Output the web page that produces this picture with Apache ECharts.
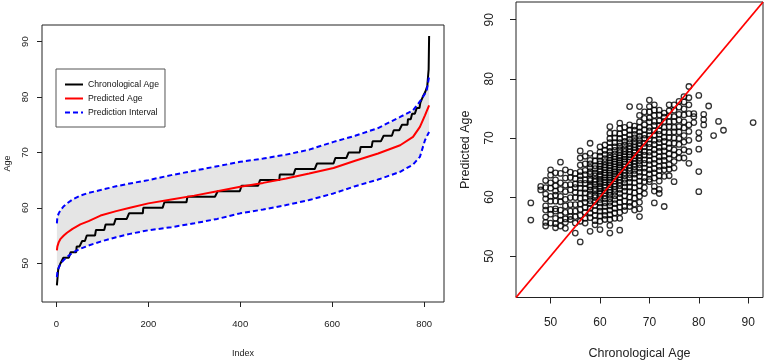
<!DOCTYPE html>
<html>
<head>
<meta charset="utf-8">
<script src="https://cdn.jsdelivr.net/npm/echarts@6/dist/echarts.min.js"></script>
<style>
  html, body { margin: 0; padding: 0; background: #fff; }
  #chart { width: 765px; height: 360px; }
</style>
</head>
<body>
<div id="chart"></div>
<script>
// left panel: sorted chronological ages (value + how many subjects)
const ageValues = [46, 48, 49, 50, 51, 52, 53, 54, 55, 56, 57, 58, 59, 60, 61, 62, 63, 64, 65, 66, 67, 68,
  69, 70, 71, 72, 73, 74, 75, 76, 77, 78, 79, 80, 81, 82, 83, 84, 85, 91];
const ageCounts = [2, 1, 5, 6, 16, 13, 12, 10, 20, 21, 22, 29, 31, 46, 50, 66, 52, 40, 43, 34, 47, 40,
  29, 26, 26, 24, 22, 18, 13, 9, 10, 8, 5, 6, 4, 1, 1, 1, 1, 1];

// left panel: sorted predicted age and prediction interval, read at these indices
const curveIndex = [1, 2, 5, 9, 16, 23, 35, 52, 70, 96, 130, 160, 200, 250, 300, 350, 400, 450, 500,
  550, 603, 650, 700, 748, 776, 791, 802, 806, 811];
const predCurve = [52.3, 53.0, 53.8, 54.4, 55.0, 55.5, 56.2, 57.0, 57.6, 58.6, 59.4, 60.0, 60.8, 61.5,
  62.2, 63.0, 63.8, 64.5, 65.3, 66.2, 67.2, 68.5, 69.8, 71.3, 72.8, 74.6, 76.7, 77.5, 78.5];
const upperCurve = [57.2, 58.3, 59.0, 59.6, 60.3, 60.8, 61.5, 62.2, 62.7, 63.2, 63.9, 64.4, 65.0, 65.9,
  66.7, 67.5, 68.3, 68.9, 69.6, 70.5, 71.9, 73.0, 74.4, 76.4, 77.6, 79.2, 80.6, 81.3, 83.7];
const lowerCurve = [47.5, 48.3, 49.2, 49.9, 50.6, 51.1, 51.9, 52.6, 53.2, 53.9, 54.7, 55.3, 55.95, 56.5,
  57.2, 58.0, 59.0, 59.7, 60.5, 61.4, 62.6, 63.9, 65.1, 66.5, 67.8, 69.2, 72.2, 72.9, 73.7];

const indexTicks = [0, 200, 400, 600, 800];
const ageTicks = [50, 60, 70, 80, 90];

// right panel: predicted age for each chronological age column
const scatterAges = [46, 48, 49, 50, 51, 52, 53, 54, 55, 56, 57, 58, 59, 60, 61, 62, 63, 64, 65, 66, 67,
  68, 69, 70, 71, 72, 73, 74, 75, 76, 77, 78, 79, 80, 81, 82, 83, 84, 85, 91];
const scatterPreds = [
  [59.0, 56.1],
  [61.8, 61.2],
  [62.8, 61.6, 60.5, 59.7, 58.5, 57.8, 56.6, 55.7, 55.1],
  [64.6, 63.7, 62.4, 61.5, 60.1, 59.3, 57.9, 57.1, 55.6],
  [64.1, 62.9, 61.9, 61.0, 60.3, 59.3, 58.0, 57.6, 56.4, 55.5, 54.8],
  [65.9, 64.0, 62.4, 61.3, 60.1, 59.2, 57.8, 56.9, 56.1, 55.1],
  [64.6, 63.2, 62.0, 60.9, 59.6, 58.5, 57.4, 56.3, 55.7, 54.7],
  [64.2, 63.3, 62.1, 61.2, 59.9, 58.7, 57.6, 56.7, 56.2],
  [64.0, 63.1, 62.2, 61.6, 60.8, 59.9, 58.7, 57.6, 56.7, 55.6, 53.9],
  [67.8, 66.6, 65.4, 64.3, 63.6, 62.9, 62.3, 61.5, 60.7, 59.8, 58.8, 57.9, 56.9, 55.9, 52.4],
  [66.9, 65.6, 64.5, 63.8, 62.9, 62.3, 61.4, 60.7, 59.8, 59.1, 58.2, 57.4, 56.4, 55.6],
  [69.1, 67.4, 66.2, 65.6, 65.0, 64.3, 63.9, 63.1, 62.8, 62.0, 61.7, 61.2, 60.5, 60.1, 59.4, 58.9, 58.1, 57.3, 56.5, 54.2],
  [67.0, 66.1, 65.3, 64.8, 64.1, 63.6, 63.0, 62.6, 62.1, 61.4, 61.0, 60.3, 59.9, 59.2, 58.6, 57.7, 56.9, 56.0, 55.3],
  [68.5, 67.6, 66.9, 66.1, 65.6, 65.2, 64.7, 64.3, 63.8, 63.5, 63.0, 62.6, 62.3, 61.8, 61.4, 61.0, 60.6, 60.1, 59.6, 59.0, 58.3, 57.6, 56.8, 55.9, 54.5],
  [68.8, 67.9, 67.2, 66.5, 66.0, 65.4, 65.0, 64.6, 64.1, 63.7, 63.3, 62.9, 62.5, 62.0, 61.6, 61.1, 60.7, 60.2, 59.7, 59.0, 58.4, 57.6, 56.9, 56.2],
  [71.9, 70.8, 69.9, 69.2, 68.4, 67.7, 67.1, 66.6, 66.2, 65.8, 65.3, 64.9, 64.5, 64.1, 63.7, 63.3, 62.9, 62.5, 62.1, 61.7, 61.2, 60.8, 60.3, 59.7, 59.1, 58.5, 57.8, 57.0, 56.2, 55.2, 53.9],
  [70.8, 70.0, 69.2, 68.5, 67.9, 67.3, 66.8, 66.4, 66.0, 65.6, 65.1, 64.7, 64.3, 63.9, 63.5, 63.1, 62.7, 62.2, 61.8, 61.3, 60.8, 60.2, 59.6, 58.9, 58.1, 57.3, 56.4],
  [72.5, 71.6, 70.7, 69.9, 69.2, 68.6, 68.0, 67.5, 67.0, 66.6, 66.2, 65.8, 65.4, 65.0, 64.6, 64.2, 63.8, 63.4, 62.9, 62.4, 61.9, 61.3, 60.6, 59.9, 59.1, 58.3, 57.4, 56.4, 54.4],
  [71.8, 70.9, 70.1, 69.4, 68.8, 68.2, 67.7, 67.2, 66.8, 66.4, 66.0, 65.6, 65.1, 64.6, 64.1, 63.6, 63.0, 62.4, 61.7, 61.0, 60.2, 59.3, 58.4, 57.7],
  [75.3, 72.2, 71.3, 70.5, 69.8, 69.2, 68.6, 68.1, 67.6, 67.2, 66.8, 66.3, 65.9, 65.4, 64.9, 64.4, 63.8, 63.2, 62.5, 61.7, 60.9, 60.0, 59.1, 58.4],
  [72.0, 71.3, 70.6, 70.0, 69.4, 68.9, 68.4, 67.9, 67.5, 67.0, 66.6, 66.1, 65.6, 65.1, 64.5, 63.9, 63.2, 62.4, 61.6, 60.7, 59.8, 58.8, 57.8],
  [75.3, 73.8, 72.7, 71.8, 71.0, 70.3, 69.7, 69.1, 68.6, 68.1, 67.6, 67.1, 66.6, 66.1, 65.5, 64.9, 64.2, 63.5, 62.7, 61.9, 61.0, 60.1, 59.1, 58.0, 56.7],
  [74.4, 73.3, 72.2, 71.4, 70.5, 69.9, 69.1, 68.5, 67.7, 67.1, 66.3, 65.7, 64.9, 64.2, 63.3, 62.6, 61.6, 60.6],
  [76.4, 75.3, 74.4, 73.4, 72.7, 71.8, 71.2, 70.4, 69.8, 69.0, 68.4, 67.6, 67.0, 66.2, 65.5, 64.6, 63.9, 63.0, 62.6],
  [75.6, 74.7, 73.8, 72.8, 72.1, 71.2, 70.5, 69.6, 68.9, 68.0, 67.3, 66.4, 65.7, 64.8, 64.1, 63.2, 61.8, 61.0, 59.0],
  [74.7, 73.9, 72.9, 72.1, 71.2, 70.6, 69.8, 69.2, 68.4, 67.7, 66.8, 66.1, 65.2, 64.5, 63.6, 62.7, 61.3, 60.6],
  [74.2, 73.5, 72.8, 71.8, 71.0, 70.1, 69.4, 68.5, 67.8, 66.9, 66.2, 65.3, 64.6, 63.5, 58.4],
  [75.6, 74.6, 73.7, 72.7, 71.9, 70.9, 70.1, 69.1, 68.3, 67.3, 66.5, 65.5, 64.7, 63.6],
  [75.6, 74.7, 73.6, 72.8, 71.8, 71.0, 70.0, 69.1, 68.0, 67.1, 66.0, 64.9, 62.6],
  [76.2, 75.2, 74.0, 73.0, 71.9, 71.0, 69.9, 68.9, 67.6, 66.6],
  [77.0, 76.1, 74.9, 73.9, 72.7, 71.7, 70.4, 69.3, 68.0, 66.6],
  [78.7, 76.8, 75.6, 74.1, 72.2, 71.1, 69.6, 67.7, 65.7],
  [74.1, 73.6, 72.6],
  [77.2, 70.9, 69.9, 68.1, 64.3, 60.9],
  [74.0, 73.1, 72.2],
  [75.4],
  [70.4],
  [72.8],
  [71.3],
  [72.6]
];
const identityRange = [43, 93];

const baseFont = '"Liberation Sans", Arial, sans-serif';
const axisColor = "#222";

function chronSeries(){
  const pts = [];
  let idx = 1;
  ageValues.forEach((age, i) => {
    for(let k = 0; k < ageCounts[i]; k++){
      pts.push([idx, age]);
      idx++;
    }
  });
  return pts;
}

function pairs(values){
  return curveIndex.map((x, i) => [x, values[i]]);
}

function scatterPoints(){
  const pts = [];
  scatterAges.forEach((age, i) => {
    scatterPreds[i].forEach((p) => pts.push([age, p]));
  });
  return pts;
}

function valueAxis(opts){
  return Object.assign({
    type: "value",
    scale: true,
    splitLine: { show: false },
    axisLine: { show: false, onZero: false },
    nameLocation: "middle"
  }, opts);
}

const chart = echarts.init(document.getElementById("chart"), null, { renderer: "canvas" });

chart.setOption({
  animation: false,
  backgroundColor: "#fff",
  grid: [
    { left: 42, top: 25, width: 402, height: 277, outerBoundsMode: "none", containLabel: false,
      show: true, borderColor: axisColor, borderWidth: 1, backgroundColor: "transparent" },
    { left: 516, top: 2, width: 247, height: 295.5, outerBoundsMode: "none", containLabel: false,
      show: true, borderColor: axisColor, borderWidth: 1, backgroundColor: "transparent" }
  ],
  legend: {
    left: 56,
    top: 69,
    orient: "vertical",
    padding: [11, 6, 10, 8],
    itemWidth: 18,
    itemHeight: 10,
    itemGap: 5,
    borderColor: "#555",
    borderWidth: 1,
    itemStyle: { opacity: 0 },
    data: ["Chronological Age", "Predicted Age", "Prediction Interval"],
    textStyle: { fontFamily: baseFont, fontSize: 8.7, color: "#111" }
  },
  xAxis: [
    valueAxis({
      gridIndex: 0, min: -31.4, max: 843.4,
      name: "Index", nameGap: 47,
      nameTextStyle: { fontFamily: baseFont, fontSize: 9, color: "#222" },
      axisTick: { show: true, length: 5, customValues: indexTicks, lineStyle: { color: axisColor } },
      axisLabel: { customValues: indexTicks, margin: 17, fontFamily: baseFont, fontSize: 9.5, color: "#222" }
    }),
    valueAxis({
      gridIndex: 1, min: identityRange[0], max: identityRange[1],
      name: "Chronological Age", nameGap: 50,
      nameTextStyle: { fontFamily: baseFont, fontSize: 12.5, color: "#222" },
      axisTick: { show: true, length: 6, customValues: ageTicks, lineStyle: { color: axisColor } },
      axisLabel: { customValues: ageTicks, margin: 19, fontFamily: baseFont, fontSize: 12, color: "#222" }
    })
  ],
  yAxis: [
    valueAxis({
      gridIndex: 0, min: 43, max: 93,
      name: "Age", nameGap: 30,
      nameTextStyle: { fontFamily: baseFont, fontSize: 9, color: "#222" },
      axisTick: { show: true, length: 5, customValues: ageTicks, lineStyle: { color: axisColor } },
      axisLabel: { customValues: ageTicks, rotate: 90, margin: 12, fontFamily: baseFont, fontSize: 9.5, color: "#222" }
    }),
    valueAxis({
      gridIndex: 1, min: identityRange[0], max: identityRange[1],
      name: "Predicted Age", nameGap: 44,
      nameTextStyle: { fontFamily: baseFont, fontSize: 12.5, color: "#222" },
      axisTick: { show: true, length: 6, customValues: ageTicks, lineStyle: { color: axisColor } },
      axisLabel: { customValues: ageTicks, rotate: 90, margin: 20, fontFamily: baseFont, fontSize: 12, color: "#222" }
    })
  ],
  series: [
    {
      type: "custom",
      xAxisIndex: 0,
      yAxisIndex: 0,
      z: 1,
      silent: true,
      data: [[curveIndex[0], lowerCurve[0]]],
      renderItem: (params, api) => {
        const points = [];
        for(let i = 0; i < curveIndex.length; i++){
          points.push(api.coord([curveIndex[i], upperCurve[i]]));
        }
        for(let i = curveIndex.length - 1; i >= 0; i--){
          points.push(api.coord([curveIndex[i], lowerCurve[i]]));
        }
        return { type: "polygon", shape: { points }, style: { fill: "#e5e5e5" } };
      }
    },
    {
      name: "Chronological Age",
      type: "line",
      xAxisIndex: 0, yAxisIndex: 0, z: 3,
      symbol: "none",
      data: chronSeries(),
      lineStyle: { color: "#000", width: 2 },
      itemStyle: { color: "#000" }
    },
    {
      name: "Predicted Age",
      type: "line",
      xAxisIndex: 0, yAxisIndex: 0, z: 4,
      symbol: "none",
      data: pairs(predCurve),
      lineStyle: { color: "#ff0000", width: 2 },
      itemStyle: { color: "#ff0000" }
    },
    {
      name: "Prediction Interval",
      type: "line",
      xAxisIndex: 0, yAxisIndex: 0, z: 4,
      symbol: "none",
      data: pairs(upperCurve),
      lineStyle: { color: "#0000ff", width: 2, type: [5, 3] },
      itemStyle: { color: "#0000ff" }
    },
    {
      name: "Prediction Interval",
      type: "line",
      xAxisIndex: 0, yAxisIndex: 0, z: 4,
      symbol: "none",
      data: pairs(lowerCurve),
      lineStyle: { color: "#0000ff", width: 2, type: [5, 3] },
      itemStyle: { color: "#0000ff" }
    },
    {
      type: "scatter",
      xAxisIndex: 1, yAxisIndex: 1, z: 3,
      symbol: "circle",
      symbolSize: 5.5,
      data: scatterPoints(),
      itemStyle: { color: "rgba(0,0,0,0)", borderColor: "#000", borderWidth: 1.3 }
    },
    {
      type: "line",
      xAxisIndex: 1, yAxisIndex: 1, z: 5,
      symbol: "none",
      data: [[identityRange[0], identityRange[0]], [identityRange[1], identityRange[1]]],
      lineStyle: { color: "#ff0000", width: 1.8 }
    }
  ]
});
</script>
</body>
</html>
